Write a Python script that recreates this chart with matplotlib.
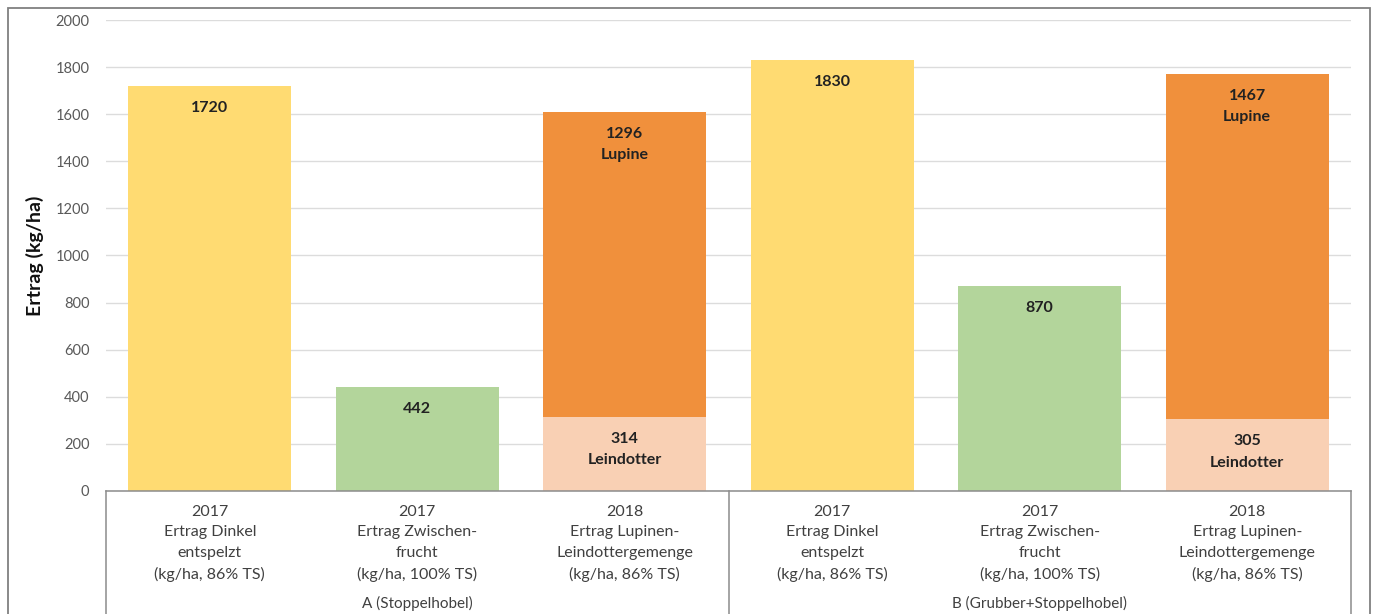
import matplotlib
matplotlib.use('Agg')
import matplotlib.pyplot as plt
from matplotlib.patches import Rectangle

plt.rcParams['font.family'] = ['Lato', 'DejaVu Sans']

# data
groups = ['A (Stoppelhobel)', 'B (Grubber+Stoppelhobel)']
cat_labels = [
    '2017\nErtrag Dinkel\nentspelzt\n(kg/ha, 86% TS)',
    '2017\nErtrag Zwischen-\nfrucht\n(kg/ha, 100% TS)',
    '2018\nErtrag Lupinen-\nLeindottergemenge\n(kg/ha, 86% TS)',
    '2017\nErtrag Dinkel\nentspelzt\n(kg/ha, 86% TS)',
    '2017\nErtrag Zwischen-\nfrucht\n(kg/ha, 100% TS)',
    '2018\nErtrag Lupinen-\nLeindottergemenge\n(kg/ha, 86% TS)',
]
base_values = [1720, 442, 314, 1830, 870, 305]
top_values = [0, 0, 1296, 0, 0, 1467]
base_names = ['', '', 'Leindotter', '', '', 'Leindotter']
top_names = ['', '', 'Lupine', '', '', 'Lupine']

yellow = '#FFDB72'
green = '#B3D59B'
orange = '#F0903C'
peach = '#F9D0B4'
base_colors = [yellow, green, peach, yellow, green, peach]

fig = plt.figure(figsize=(13.76, 6.14), dpi=100)
ax = fig.add_axes([106/1376, 123/614, 1245/1376, 471/614])

x = list(range(len(base_values)))
w = 0.786
ax.bar(x, base_values, width=w, color=base_colors, zorder=2)
ax.bar(x, top_values, width=w, bottom=base_values, color=orange, zorder=2)

txt = dict(ha='center', va='top', fontsize=11.5, fontweight='bold',
           color='#222222', textcoords='offset points', linespacing=1.65)
for i in x:
    lab = str(base_values[i]) + ('\n' + base_names[i] if base_names[i] else '')
    ax.annotate(lab, xy=(i, base_values[i]), xytext=(0, -11), **txt)
    if top_values[i]:
        lab = str(top_values[i]) + '\n' + top_names[i]
        ax.annotate(lab, xy=(i, base_values[i] + top_values[i]),
                    xytext=(0, -11), **txt)

ax.set_xlim(-0.5, 5.5)
ax.set_ylim(0, 2000)
ax.set_yticks(range(0, 2001, 200))
ax.yaxis.grid(True, color='#DCDCDC', lw=1, zorder=0)
ax.set_axisbelow(True)
ax.tick_params(axis='y', length=0, pad=12, labelsize=10.5, labelcolor='#595959')
ax.set_xticks(x)
ax.set_xticklabels(cat_labels, fontsize=11.5, color='#404040', linespacing=1.58)
ax.tick_params(axis='x', length=0, pad=10)

for s in ['top', 'right', 'left']:
    ax.spines[s].set_visible(False)
ax.spines['bottom'].set_color('#8C8C8C')
ax.spines['bottom'].set_linewidth(1.1)

# category box lines below the axis
tr = ax.get_xaxis_transform()
for xv in [-0.5, 2.5, 5.5]:
    ax.plot([xv, xv], [0, -0.35], transform=tr, color='#8C8C8C', lw=1.1,
            clip_on=False)
for gi, g in enumerate(groups):
    ax.text(1 + 3 * gi, -0.239, g, transform=tr, ha='center', va='center',
            fontsize=11, color='#404040')

ax.set_ylabel('Ertrag (kg/ha)', fontsize=14, fontweight='bold',
              color='#111111', labelpad=8)

# outer frame
fig.patches.append(Rectangle((8/1376, -0.1), 1362/1376, (614 - 8)/614 + 0.1,
                             transform=fig.transFigure, fill=False,
                             edgecolor='#808080', lw=1.3))

fig.savefig('out.png', dpi=100)
